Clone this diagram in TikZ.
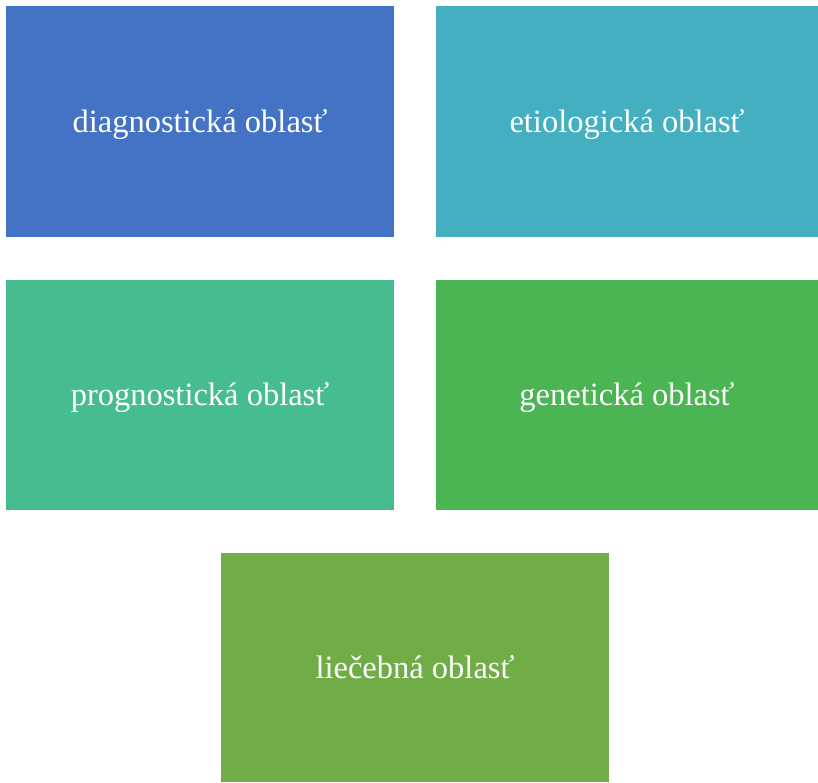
\documentclass[tikz,border=0pt]{standalone}
\usepackage{fontspec}
\setmainfont{Liberation Serif}
\definecolor{cBlue}{HTML}{4472C4}
\definecolor{cTeal}{HTML}{43AFC1}
\definecolor{cSea}{HTML}{45BD8F}
\definecolor{cGreen}{HTML}{4BB453}
\definecolor{cOlive}{HTML}{71AD47}
\begin{document}
\begin{tikzpicture}[x=1pt,y=-1pt,
  area/.style={fill=#1, draw=none},
  label/.style={text=white, font=\fontsize{32.5}{38}\selectfont, inner sep=0pt, anchor=base, yshift=-10.5pt}]
\useasboundingbox (0,0) rectangle (818,782);
\fill[white] (0,0) rectangle (818,782);
\path[area=cBlue]  (6,6) rectangle (394,237) node[midway,label] (diag) {diagnostická oblasť};
\path[area=cTeal]  (436,6) rectangle (818,237) node[midway,label] (etio) {etiologická oblasť};
\path[area=cSea]   (6,280) rectangle (394,510) node[midway,label] (prog) {prognostická oblasť};
\path[area=cGreen] (436,280) rectangle (818,510) node[midway,label] (gene) {genetická oblasť};
\path[area=cOlive] (221,553) rectangle (609,782) node[midway,label] (liec) {liečebná oblasť};
\end{tikzpicture}
\end{document}
